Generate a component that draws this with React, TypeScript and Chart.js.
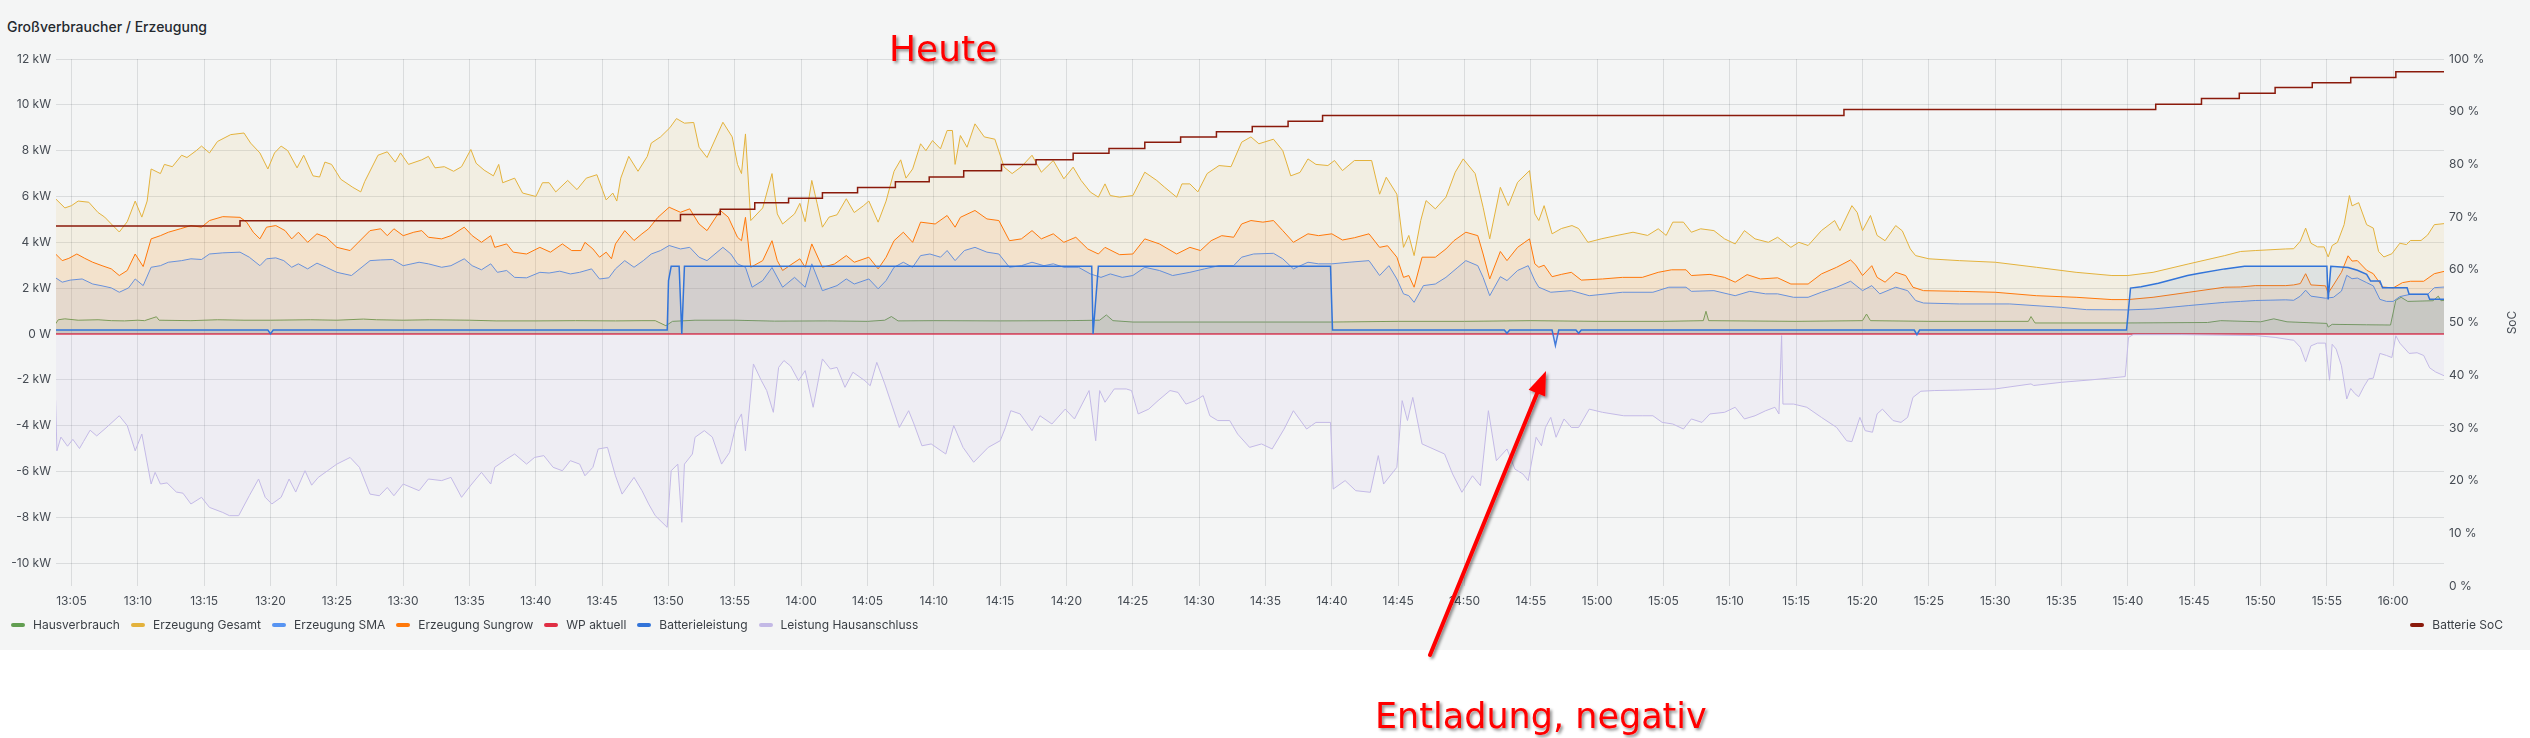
import React, { useEffect, useRef } from "react";
import { Chart, registerables } from "chart.js";

Chart.register(...registerables);

// time axis: minutes after 13:00
const X_MIN = 3.83;
const X_MAX = 183.83;
const xTickMinutes = [5, 10, 15, 20, 25, 30, 35, 40, 45, 50, 55, 60, 65, 70, 75, 80, 85, 90, 95, 100, 105, 110, 115, 120, 125, 130, 135, 140, 145, 150, 155, 160, 165, 170, 175, 180];
const yTicksKW = [-10, -8, -6, -4, -2, 0, 2, 4, 6, 8, 10, 12];
const socTicks = [0, 10, 20, 30, 40, 50, 60, 70, 80, 90, 100];

const seriesNames = ["Hausverbrauch", "Erzeugung Gesamt", "Erzeugung SMA", "Erzeugung Sungrow", "WP aktuell", "Batterieleistung", "Leistung Hausanschluss"];
const socName = "Batterie SoC";

// [minute after 13:00, kW]
const hausverbrauch: [number, number][] = [
  [3.8, 0.44], [4.0, 0.62], [4.5, 0.66], [5.5, 0.6], [7.0, 0.62], [8.0, 0.58], [9.0, 0.57], [10.0, 0.6], [10.5, 0.58], [11.4, 0.75], [11.6, 0.6],
  [14.0, 0.58], [16.0, 0.62], [18.0, 0.6], [20.0, 0.6], [23.0, 0.62], [25.0, 0.6], [27.0, 0.65], [28.0, 0.62], [30.0, 0.6], [32.0, 0.62],
  [35.0, 0.6], [37.0, 0.57], [40.0, 0.57], [43.0, 0.58], [46.0, 0.57], [48.0, 0.58], [49.0, 0.58], [49.8, 0.36], [50.3, 0.55], [52.0, 0.6],
  [55.0, 0.6], [58.0, 0.56], [62.0, 0.57], [65.0, 0.55], [66.3, 0.6], [66.8, 0.76], [67.3, 0.57], [70.0, 0.58], [75.0, 0.57], [80.0, 0.58],
  [82.5, 0.6], [83.0, 0.83], [83.5, 0.58], [85.0, 0.52], [90.0, 0.52], [95.0, 0.52], [100.0, 0.52], [105.0, 0.55], [110.0, 0.55], [115.0, 0.58],
  [120.0, 0.55], [125.0, 0.55], [128.0, 0.58], [128.2, 0.99], [128.4, 0.58], [135.0, 0.55], [140.0, 0.58], [140.3, 0.87], [140.6, 0.58],
  [145.0, 0.55], [152.5, 0.55], [152.7, 0.76], [153.0, 0.48], [160.0, 0.48], [166.0, 0.5], [167.0, 0.58], [170.0, 0.53], [171.0, 0.66],
  [172.0, 0.53], [175.0, 0.46], [175.1, 0.3], [175.4, 0.42], [178.0, 0.4], [179.8, 0.39], [180.2, 1.47], [180.6, 1.6], [181.1, 1.42],
  [183.0, 1.45], [183.4, 1.65], [183.6, 1.45], [183.9, 1.47],
];

const erzeugungGesamt: [number, number][] = [
  [3.8, 5.9], [4.5, 5.5], [5.0, 5.6], [5.5, 5.8], [6.3, 5.75], [7.0, 5.3], [7.5, 5.1], [8.0, 4.8], [8.6, 4.45], [9.2, 4.9], [9.8, 5.8],
  [10.3, 5.1], [10.7, 5.8], [11.0, 7.2], [11.7, 7.0], [12.0, 7.4], [12.6, 7.3], [13.3, 7.8], [13.7, 7.7], [14.4, 8.0], [14.8, 8.2], [15.4, 7.9],
  [16.0, 8.4], [17.0, 8.7], [18.0, 8.77], [18.5, 8.33], [19.2, 7.9], [19.8, 7.2], [20.3, 7.9], [20.8, 8.2], [21.3, 8.0], [22.0, 7.25],
  [22.5, 7.8], [23.2, 6.9], [23.7, 6.85], [24.1, 7.5], [24.6, 7.4], [25.3, 6.75], [26.2, 6.4], [26.8, 6.2], [27.1, 6.65], [28.1, 7.8],
  [28.8, 7.95], [29.4, 7.5], [29.8, 7.9], [30.4, 7.4], [31.4, 7.6], [31.9, 7.75], [32.4, 7.25], [33.1, 7.3], [33.8, 7.1], [34.4, 7.3],
  [35.1, 8.05], [35.5, 7.45], [36.1, 7.15], [36.8, 6.9], [37.2, 7.4], [37.5, 6.6], [38.4, 6.8], [39.0, 6.15], [40.0, 6.0], [40.5, 6.6],
  [41.0, 6.6], [41.5, 6.2], [42.4, 6.7], [43.1, 6.3], [43.8, 6.8], [44.6, 6.95], [45.3, 5.85], [45.8, 6.15], [46.1, 5.8], [46.4, 6.8],
  [47.0, 7.75], [47.7, 7.1], [48.4, 7.75], [48.7, 8.33], [49.4, 8.6], [50.1, 9.0], [50.6, 9.4], [51.2, 9.2], [51.9, 9.23], [52.3, 8.15],
  [52.9, 7.7], [54.1, 9.24], [54.8, 8.6], [55.2, 7.4], [55.5, 7.0], [55.8, 8.73], [56.2, 4.95], [57.1, 5.5], [57.8, 7.0], [58.2, 5.24],
  [58.6, 4.8], [59.5, 5.24], [59.9, 5.7], [60.3, 4.9], [60.8, 6.7], [61.2, 5.7], [61.6, 4.66], [62.1, 5.1], [62.7, 5.2], [63.4, 5.9],
  [64.0, 5.3], [64.7, 5.6], [65.1, 5.8], [65.8, 4.88], [66.4, 5.8], [67.0, 7.1], [67.5, 7.6], [67.9, 6.8], [68.4, 7.2], [69.0, 8.3],
  [69.4, 8.0], [69.9, 8.44], [70.5, 8.08], [71.0, 8.88], [71.4, 8.88], [71.6, 7.4], [72.0, 8.66], [72.5, 8.15], [73.1, 9.17], [73.8, 8.6],
  [74.6, 8.5], [75.3, 7.28], [75.9, 7.0], [76.6, 7.3], [77.4, 7.8], [78.1, 7.06], [79.0, 7.57], [79.8, 6.77], [80.5, 7.28], [81.1, 6.7],
  [81.8, 6.19], [82.4, 5.97], [82.9, 6.55], [83.3, 6.04], [84.0, 5.97], [85.0, 6.04], [85.9, 7.06], [86.8, 6.7], [87.4, 6.4], [88.3, 5.97],
  [88.7, 6.55], [89.3, 6.55], [89.9, 6.2], [90.6, 7.0], [91.5, 7.35], [92.4, 7.3], [93.2, 8.37], [93.9, 8.6], [94.5, 8.3], [95.6, 8.5],
  [96.3, 8.0], [96.9, 6.9], [97.6, 7.05], [98.2, 7.64], [98.8, 7.4], [99.7, 7.35], [100.2, 7.57], [100.8, 7.13], [101.7, 7.57], [103.0, 7.57],
  [103.6, 6.1], [104.1, 6.84], [104.9, 6.1], [105.4, 3.78], [105.8, 4.3], [106.2, 3.42], [106.7, 4.95], [107.1, 5.82], [107.8, 5.46],
  [108.6, 5.97], [109.3, 7.06], [109.9, 7.64], [110.8, 7.0], [111.4, 5.53], [111.9, 4.15], [112.7, 6.4], [113.3, 5.6], [114.0, 6.62],
  [114.9, 7.13], [115.3, 5.24], [115.6, 4.95], [116.0, 5.6], [116.6, 4.37], [117.3, 4.6], [118.1, 4.73], [118.6, 4.6], [119.3, 4.0],
  [120.3, 4.15], [121.5, 4.3], [122.7, 4.44], [123.8, 4.3], [124.6, 4.59], [125.2, 4.3], [125.7, 4.88], [126.5, 4.88], [127.1, 4.44],
  [127.8, 4.59], [128.8, 4.51], [129.6, 4.15], [130.4, 3.93], [131.1, 4.51], [131.9, 4.15], [132.9, 4.0], [133.6, 4.22], [134.6, 3.78],
  [135.2, 4.0], [135.9, 3.86], [136.9, 4.51], [137.9, 4.95], [138.3, 4.51], [139.2, 5.6], [139.6, 5.3], [140.0, 4.51], [140.6, 5.17],
  [141.1, 4.3], [141.7, 4.07], [142.5, 4.73], [143.0, 4.5], [143.6, 3.71], [144.0, 3.42], [145.0, 3.28], [147.3, 3.2], [150.0, 3.13],
  [153.1, 2.91], [156.1, 2.69], [158.8, 2.55], [160.0, 2.55], [161.9, 2.69], [164.6, 3.06], [167.3, 3.42], [168.5, 3.6], [169.6, 3.64],
  [171.9, 3.71], [172.5, 3.72], [173.0, 4.05], [173.4, 4.62], [173.8, 3.96], [174.3, 3.8], [174.8, 3.8], [175.1, 3.36], [175.4, 3.86],
  [175.8, 4.0], [176.3, 4.77], [176.7, 6.04], [176.9, 5.59], [177.4, 5.73], [178.0, 4.77], [178.5, 4.62], [178.9, 3.6], [179.3, 3.36],
  [179.9, 3.5], [180.5, 3.96], [181.0, 3.9], [181.3, 4.08], [182.1, 4.08], [182.6, 4.32], [183.1, 4.77], [183.9, 4.82],
];

const erzeugungSMA: [number, number][] = [
  [3.8, 2.45], [4.3, 2.26], [4.9, 2.35], [5.8, 2.4], [6.6, 2.18], [7.3, 2.1], [8.0, 2.01], [8.6, 1.82], [9.3, 2.01], [9.8, 2.4], [10.4, 2.11],
  [11.0, 2.91], [11.7, 2.98], [12.3, 3.13], [13.3, 3.2], [14.0, 3.28], [14.8, 3.25], [15.4, 3.49], [16.4, 3.54], [17.7, 3.57], [18.4, 3.35],
  [19.2, 2.98], [19.7, 3.28], [20.4, 3.32], [21.0, 3.2], [21.6, 2.91], [22.1, 3.06], [22.8, 2.84], [23.5, 3.09], [24.2, 2.91], [25.0, 2.69],
  [26.1, 2.55], [27.5, 3.2], [28.3, 3.23], [29.2, 3.25], [30.0, 2.98], [31.2, 3.13], [31.9, 3.06], [32.9, 2.91], [33.6, 2.98], [34.6, 3.28],
  [35.2, 2.98], [35.9, 2.8], [36.6, 3.06], [37.1, 2.69], [37.8, 2.77], [38.4, 2.47], [39.3, 2.45], [40.3, 2.69], [41.0, 2.66], [41.8, 2.74],
  [42.6, 2.62], [43.3, 2.69], [44.2, 2.84], [44.8, 2.4], [45.5, 2.45], [46.0, 2.84], [46.7, 3.2], [47.4, 2.91], [48.1, 3.2], [48.7, 3.49],
  [49.4, 3.64], [50.05, 3.86], [50.9, 3.71], [51.6, 3.78], [52.3, 3.35], [52.9, 3.2], [54.1, 3.78], [54.7, 3.49], [55.2, 3.06], [55.8, 2.91],
  [56.3, 2.04], [57.1, 2.33], [57.8, 2.9], [58.6, 2.04], [59.5, 2.47], [60.3, 2.04], [60.8, 3.06], [61.6, 1.89], [62.7, 2.11], [63.4, 2.4],
  [64.0, 2.18], [65.1, 2.4], [65.8, 1.97], [66.4, 2.33], [67.0, 2.91], [67.7, 3.13], [68.4, 2.91], [69.0, 3.42], [69.7, 3.49], [70.5, 3.35],
  [71.0, 3.64], [71.6, 3.2], [72.3, 3.64], [73.1, 3.78], [74.0, 3.57], [74.9, 3.49], [75.7, 2.91], [76.6, 2.98], [77.4, 3.13], [78.3, 2.98],
  [79.0, 3.06], [79.8, 2.91], [80.9, 2.91], [81.8, 2.62], [82.6, 2.47], [83.3, 2.62], [84.2, 2.47], [85.0, 2.55], [85.9, 2.91], [87.0, 2.77],
  [88.0, 2.55], [89.3, 2.69], [90.4, 2.84], [91.5, 2.98], [92.6, 2.98], [93.2, 3.35], [94.1, 3.49], [95.6, 3.52], [96.3, 3.28], [97.1, 2.84],
  [98.2, 3.13], [99.0, 3.06], [100.0, 3.06], [101.3, 3.13], [102.8, 3.2], [103.6, 2.55], [104.3, 2.98], [104.9, 2.4], [105.4, 1.75],
  [105.8, 1.67], [106.2, 1.38], [106.9, 2.11], [107.8, 2.18], [108.6, 2.47], [109.5, 2.91], [110.1, 3.2], [111.0, 2.98], [111.4, 2.47],
  [111.9, 1.67], [112.7, 2.5], [113.2, 2.33], [114.0, 2.77], [114.8, 2.98], [115.3, 2.33], [115.6, 2.04], [116.5, 1.82], [118.05, 1.89],
  [119.4, 1.67], [121.9, 1.82], [124.2, 1.82], [125.4, 2.04], [126.7, 2.04], [127.1, 1.86], [128.8, 1.89], [130.4, 1.67], [131.5, 1.86],
  [132.7, 1.75], [133.6, 1.75], [134.8, 1.6], [135.9, 1.6], [136.9, 1.82], [138.05, 2.04], [139.1, 2.3], [140.0, 1.89], [140.7, 2.11],
  [141.3, 1.75], [142.5, 2.04], [143.4, 1.89], [144.0, 1.46], [144.6, 1.35], [147.3, 1.31], [151.1, 1.31], [155.0, 1.16], [156.9, 1.06],
  [160.0, 1.05], [161.9, 1.09], [164.6, 1.24], [167.3, 1.38], [168.5, 1.42], [169.6, 1.46], [171.9, 1.49], [172.5, 1.47], [173.0, 1.65],
  [173.4, 1.91], [173.8, 1.65], [174.9, 1.56], [175.5, 1.6], [176.1, 1.87], [176.5, 2.56], [176.9, 2.41], [177.3, 2.44], [178.0, 2.24],
  [178.5, 2.1], [179.0, 1.51], [179.5, 1.42], [180.0, 1.42], [180.5, 1.63], [181.3, 1.73], [182.6, 1.73], [183.1, 2.02], [183.9, 2.05],
];

const erzeugungSungrow: [number, number][] = [
  [3.8, 3.49], [4.3, 3.2], [4.8, 3.3], [5.4, 3.49], [6.0, 3.3], [6.6, 3.13], [7.3, 2.98], [8.0, 2.84], [8.6, 2.55], [9.2, 2.77], [9.8, 3.49],
  [10.4, 2.94], [11.0, 4.15], [11.7, 4.29], [12.3, 4.44], [13.2, 4.59], [14.0, 4.73], [14.8, 4.66], [15.4, 4.95], [16.4, 5.12], [17.7, 5.09],
  [18.2, 4.88], [18.7, 4.44], [19.2, 4.15], [19.7, 4.66], [20.4, 4.73], [21.1, 4.51], [21.6, 4.15], [22.1, 4.44], [22.8, 4.0], [23.5, 4.37],
  [24.2, 4.22], [25.0, 3.78], [26.0, 3.64], [26.5, 3.93], [27.5, 4.51], [28.3, 4.59], [28.8, 4.29], [29.3, 4.59], [30.0, 4.29], [30.8, 4.44],
  [31.4, 4.51], [31.9, 4.22], [32.9, 4.15], [33.6, 4.29], [34.6, 4.66], [35.2, 4.29], [35.9, 4.0], [36.6, 4.29], [36.9, 3.78], [37.8, 3.93],
  [38.3, 3.57], [39.3, 3.49], [40.3, 3.78], [41.1, 3.57], [42.0, 3.93], [42.7, 3.64], [43.4, 3.64], [43.7, 4.0], [44.3, 3.71], [44.8, 3.35],
  [45.3, 3.57], [45.7, 3.28], [46.0, 3.93], [46.7, 4.51], [47.4, 4.08], [48.0, 4.37], [48.5, 4.59], [49.2, 5.09], [50.05, 5.53], [50.9, 5.31],
  [51.6, 5.46], [52.3, 4.8], [52.9, 4.51], [53.9, 5.39], [54.5, 5.1], [55.2, 4.22], [55.5, 4.07], [55.8, 5.09], [56.2, 2.91], [57.1, 3.2],
  [57.8, 4.07], [58.2, 3.2], [58.6, 2.77], [59.3, 3.05], [59.9, 3.28], [60.3, 2.91], [60.8, 3.93], [61.6, 2.91], [62.5, 3.05], [63.4, 3.42],
  [64.0, 3.13], [65.1, 3.35], [65.8, 2.84], [66.4, 3.35], [67.0, 4.07], [67.7, 4.44], [68.4, 4.0], [69.0, 4.88], [70.1, 4.8], [71.0, 5.17],
  [71.6, 4.66], [72.0, 5.09], [73.1, 5.39], [74.0, 5.02], [74.9, 4.95], [75.7, 4.07], [76.6, 4.15], [77.4, 4.51], [78.1, 4.15], [79.0, 4.37],
  [79.8, 4.0], [80.7, 4.22], [81.6, 3.71], [82.4, 3.49], [82.9, 3.78], [84.0, 3.46], [85.0, 3.49], [85.9, 4.15], [87.0, 3.93], [88.3, 3.49],
  [89.3, 3.78], [90.1, 3.64], [90.9, 4.07], [91.7, 4.29], [92.6, 4.22], [93.2, 4.8], [93.9, 4.95], [94.8, 4.88], [95.6, 4.95], [96.3, 4.51],
  [97.1, 4.0], [98.2, 4.37], [99.0, 4.29], [100.0, 4.37], [100.8, 4.1], [101.7, 4.2], [102.8, 4.37], [103.6, 3.78], [104.2, 3.85], [104.9, 3.35],
  [105.4, 2.47], [105.8, 2.55], [106.2, 2.04], [106.8, 3.35], [107.8, 3.35], [108.6, 3.71], [109.2, 4.07], [110.1, 4.44], [111.0, 4.29],
  [111.4, 3.49], [111.9, 2.4], [112.7, 3.6], [113.2, 3.2], [114.0, 3.78], [114.9, 4.15], [115.3, 3.06], [115.6, 2.91], [116.0, 3.0],
  [116.6, 2.5], [117.3, 2.6], [118.05, 2.69], [118.8, 2.35], [120.4, 2.4], [121.9, 2.47], [123.4, 2.47], [124.6, 2.69], [125.6, 2.8],
  [126.7, 2.8], [127.1, 2.55], [128.5, 2.6], [129.6, 2.47], [130.4, 2.26], [131.3, 2.59], [132.3, 2.4], [133.6, 2.45], [134.6, 2.18],
  [135.9, 2.18], [136.9, 2.62], [138.05, 2.91], [139.1, 3.23], [139.5, 3.0], [140.0, 2.55], [140.7, 2.98], [141.1, 2.47], [141.7, 2.26],
  [142.5, 2.69], [143.25, 2.55], [143.8, 2.04], [144.6, 1.89], [147.3, 1.86], [150.0, 1.82], [153.1, 1.67], [156.1, 1.6], [158.8, 1.5],
  [160.0, 1.5], [161.9, 1.6], [164.6, 1.82], [167.3, 2.04], [168.5, 2.05], [169.6, 2.11], [171.9, 2.11], [172.5, 2.14], [173.0, 2.2],
  [173.4, 2.63], [173.8, 2.14], [174.9, 2.1], [175.1, 1.78], [175.5, 2.14], [176.1, 2.69], [176.6, 3.41], [176.9, 3.18], [177.3, 3.2],
  [178.0, 2.78], [178.5, 2.63], [179.2, 2.05], [180.0, 2.01], [180.7, 2.24], [181.3, 2.3], [182.3, 2.3], [183.1, 2.63], [183.9, 2.74],
];

const wpAktuell: [number, number][] = [
  [3.8, 0], [60.0, 0], [120.0, 0], [183.9, 0],
];

const batterieleistung: [number, number][] = [
  [3.8, 0.17], [19.8, 0.17], [20.0, 0.0], [20.2, 0.17], [49.9, 0.17], [50.0, 2.33], [50.2, 2.95], [50.8, 2.95], [51.0, 0.0], [51.2, 2.95],
  [81.9, 2.95], [82.0, 0.0], [82.4, 2.95], [99.9, 2.95], [100.05, 0.17], [113.0, 0.17], [113.2, 0.03], [113.4, 0.17], [116.6, 0.17],
  [116.85, -0.5], [117.1, 0.17], [118.4, 0.17], [118.6, 0.03], [118.8, 0.17], [143.9, 0.17], [144.1, -0.03], [144.3, 0.17], [159.9, 0.17],
  [160.2, 2.0], [161.0, 2.06], [162.3, 2.21], [164.5, 2.55], [165.4, 2.65], [167.3, 2.84], [168.8, 2.95], [175.0, 2.95], [175.1, 1.51],
  [175.3, 2.95], [176.6, 2.9], [177.3, 2.78], [178.0, 2.6], [178.3, 2.31], [179.0, 2.31], [179.2, 2.02], [181.05, 2.02], [181.2, 1.73],
  [182.6, 1.73], [182.75, 1.51], [183.9, 1.51],
];

const leistungHausanschluss: [number, number][] = [
  [3.8, -2.9], [3.9, -5.1], [4.2, -4.5], [4.7, -4.9], [5.1, -4.6], [5.6, -5.0], [5.9, -4.7], [6.4, -4.2], [6.9, -4.45], [7.6, -4.1],
  [8.6, -3.57], [9.2, -4.0], [9.8, -5.1], [10.3, -4.37], [11.0, -6.55], [11.3, -6.04], [11.7, -6.55], [12.2, -6.5], [12.9, -6.9], [13.4, -6.95],
  [14.0, -7.42], [14.8, -7.13], [15.4, -7.57], [16.4, -7.79], [16.9, -7.93], [17.6, -7.93], [18.4, -7.06], [19.1, -6.33], [19.6, -7.13],
  [20.1, -7.42], [20.8, -7.13], [21.4, -6.33], [21.9, -6.9], [22.6, -5.97], [23.1, -6.6], [23.6, -6.26], [24.3, -5.97], [25.0, -5.68],
  [26.0, -5.39], [26.7, -5.82], [27.5, -6.99], [28.2, -7.06], [28.8, -6.7], [29.3, -7.06], [30.0, -6.55], [31.2, -6.84], [31.9, -6.33],
  [32.9, -6.4], [33.6, -6.26], [34.4, -7.13], [35.1, -6.6], [35.9, -6.04], [36.6, -6.55], [36.9, -5.82], [37.8, -5.46], [38.4, -5.24],
  [39.3, -5.68], [39.9, -5.39], [40.6, -5.31], [41.3, -5.82], [42.0, -5.97], [42.6, -5.53], [43.3, -5.68], [43.7, -6.19], [44.3, -5.82],
  [44.7, -5.02], [45.4, -4.95], [46.0, -6.19], [46.5, -6.99], [47.4, -6.26], [48.0, -6.84], [48.5, -7.42], [49.0, -7.93], [49.9, -8.44],
  [50.2, -5.97], [50.7, -5.68], [51.0, -8.22], [51.2, -5.68], [51.8, -5.24], [52.0, -4.51], [52.7, -4.22], [53.3, -4.5], [54.0, -5.68],
  [54.6, -5.17], [55.1, -3.93], [55.5, -3.49], [55.8, -5.1], [56.4, -1.31], [57.0, -2.04], [57.4, -2.47], [57.9, -3.42], [58.3, -1.46],
  [58.7, -1.16], [59.2, -1.4], [59.8, -2.04], [60.3, -1.6], [60.9, -3.2], [61.6, -1.09], [62.2, -1.53], [62.7, -1.46], [63.3, -2.33],
  [63.9, -1.67], [64.8, -2.04], [65.2, -2.26], [65.7, -1.24], [66.3, -2.18], [67.4, -4.08], [68.1, -3.35], [68.5, -3.93], [69.1, -4.88],
  [69.8, -4.8], [70.9, -5.24], [71.5, -4.0], [72.2, -4.95], [73.0, -5.6], [74.1, -4.95], [75.0, -4.66], [75.4, -4.08], [75.8, -3.35],
  [76.5, -3.49], [77.4, -4.22], [78.0, -3.57], [78.9, -3.93], [79.9, -3.28], [80.6, -3.71], [81.7, -2.47], [82.2, -4.66], [82.5, -2.47],
  [82.9, -2.98], [83.6, -2.4], [84.5, -2.4], [84.9, -2.47], [85.4, -3.49], [86.2, -3.28], [86.9, -2.91], [87.8, -2.47], [88.4, -2.55],
  [89.0, -3.06], [89.7, -2.91], [90.3, -2.69], [90.8, -3.57], [91.4, -3.78], [92.3, -3.78], [92.9, -4.37], [93.8, -4.95], [94.7, -4.8],
  [95.5, -5.02], [96.4, -4.15], [97.1, -3.35], [98.1, -4.15], [98.8, -3.86], [99.9, -3.86], [100.1, -6.77], [101.0, -6.4], [101.8, -6.84],
  [102.9, -6.91], [103.5, -5.31], [103.9, -6.55], [104.9, -5.82], [105.3, -2.91], [105.7, -3.78], [106.1, -2.77], [106.8, -4.8],
  [108.5, -5.24], [109.1, -6.11], [109.8, -6.91], [110.6, -6.19], [111.2, -6.62], [111.8, -3.35], [112.4, -5.53], [113.2, -5.02],
  [113.8, -5.9], [114.4, -6.11], [114.8, -6.4], [115.4, -4.51], [115.8, -4.88], [116.1, -4.08], [116.5, -3.64], [116.9, -4.51],
  [117.5, -3.71], [118.05, -4.08], [118.6, -4.08], [119.4, -3.28], [120.4, -3.42], [122.0, -3.57], [123.4, -3.57], [124.2, -3.57],
  [124.9, -3.86], [125.7, -3.93], [126.5, -4.15], [127.1, -3.71], [127.9, -3.86], [128.5, -3.49], [129.6, -3.42], [130.4, -3.2],
  [131.1, -3.71], [131.9, -3.57], [132.7, -3.35], [133.4, -3.2], [133.7, -3.49], [133.9, -0.07], [134.0, -3.06], [134.8, -3.06],
  [135.8, -3.2], [136.9, -3.64], [138.05, -4.08], [138.8, -4.66], [139.2, -4.7], [139.8, -3.64], [140.2, -4.22], [140.75, -4.29],
  [141.1, -3.49], [141.5, -3.28], [142.3, -3.78], [142.9, -3.86], [143.4, -3.64], [143.8, -2.77], [144.4, -2.5], [145.4, -2.47],
  [147.3, -2.45], [150.0, -2.4], [152.7, -2.18], [152.9, -2.25], [155.0, -2.11], [157.3, -2.0], [159.8, -1.86], [160.05, -0.15],
  [160.4, -0.03], [164.0, -0.03], [168.0, -0.06], [169.6, -0.07], [171.1, -0.15], [172.3, -0.26], [172.5, -0.27], [173.0, -0.58],
  [173.4, -1.21], [173.8, -0.52], [174.3, -0.4], [174.9, -0.4], [175.2, -2.02], [175.4, -0.45], [175.7, -0.66], [176.1, -1.39],
  [176.5, -2.84], [176.8, -2.38], [177.1, -2.6], [177.4, -2.74], [177.8, -2.29], [178.15, -1.96], [178.5, -1.93], [179.0, -0.85],
  [179.5, -0.94], [179.9, -1.03], [180.2, -0.08], [180.5, -0.4], [181.2, -0.85], [181.8, -0.82], [182.3, -0.94], [182.75, -1.48],
  [183.2, -1.66], [183.9, -1.84],
];

// [minute after 13:00, %] – values change at these moments
const batterieSoC: [number, number][] = [
  [3.8, 68.3], [17.7, 69.3], [50.9, 70.5], [53.9, 71.5], [56.5, 72.7], [59.05, 73.6], [61.6, 74.6], [64.25, 75.6], [67.1, 76.7],
  [69.65, 77.6], [72.25, 78.8], [75.1, 80.0], [77.7, 80.9], [80.5, 82.1], [83.2, 83.0], [85.9, 84.2], [88.6, 85.2], [91.3, 86.2],
  [94.0, 87.2], [96.7, 88.2], [99.3, 89.3], [138.6, 90.4], [162.1, 91.4], [165.55, 92.5], [168.4, 93.5], [171.1, 94.6], [173.9, 95.5],
  [176.8, 96.5], [180.2, 97.6], [183.9, 97.6],
];

const COLORS = ["#629E51", "#E3B23C", "#5794F2", "#FF780A", "#E02F44", "#3274D9", "#C3B9E6"];
const SOC_COLOR = "#8A1A0B";
const FILL_ALPHA = [0.1, 0.1, 0.1, 0.1, 0, 0.1, 0.12];
const LINE_WIDTH = [1, 1, 1, 1, 1.5, 1.5, 1];
const TEXT_COLOR = "#464c54";
const GRID_COLOR = "rgba(36,41,46,0.12)";

function withAlpha(hex: string, a: number) {
  const r = parseInt(hex.slice(1, 3), 16);
  const g = parseInt(hex.slice(3, 5), 16);
  const b = parseInt(hex.slice(5, 7), 16);
  return `rgba(${r},${g},${b},${a})`;
}

const toPoints = (arr: [number, number][]) => arr.map(([x, y]) => ({ x, y }));

const fmtTime = (v: number) => {
  const h = 13 + Math.floor(v / 60);
  const m = Math.round(v % 60);
  return `${h}:${m < 10 ? "0" + m : m}`;
};

const socTitlePlugin = {
  id: "socTitle",
  afterDraw(chart: any) {
    const { ctx, chartArea } = chart;
    ctx.save();
    ctx.translate(2512, (chartArea.top + chartArea.bottom) / 2);
    ctx.rotate(-Math.PI / 2);
    ctx.font = "12px Inter";
    ctx.fillStyle = TEXT_COLOR;
    ctx.textAlign = "center";
    ctx.textBaseline = "middle";
    ctx.fillText("SoC", 0, 0);
    ctx.restore();
  },
};

export default function App() {
  const canvasRef = useRef<HTMLCanvasElement | null>(null);

  useEffect(() => {
    if (!canvasRef.current) return;
    Chart.defaults.font.family = "Inter, 'Noto Sans', sans-serif";
    const seriesData = [hausverbrauch, erzeugungGesamt, erzeugungSMA, erzeugungSungrow, wpAktuell, batterieleistung, leistungHausanschluss];
    const datasets: any[] = seriesData.map((arr, i) => ({
      label: seriesNames[i],
      data: toPoints(arr),
      borderColor: COLORS[i],
      backgroundColor: FILL_ALPHA[i] > 0 ? withAlpha(COLORS[i], FILL_ALPHA[i]) : "transparent",
      fill: FILL_ALPHA[i] > 0 ? "origin" : false,
      borderWidth: LINE_WIDTH[i],
      pointRadius: 0,
      tension: 0,
      yAxisID: "y",
      order: 20 - i,
    }));
    datasets.push({
      label: socName,
      data: toPoints(batterieSoC),
      borderColor: SOC_COLOR,
      backgroundColor: SOC_COLOR,
      fill: false,
      borderWidth: 1.5,
      pointRadius: 0,
      stepped: true,
      yAxisID: "soc",
      order: 1,
    });

    const chart = new Chart(canvasRef.current, {
      type: "line",
      data: { datasets },
      plugins: [socTitlePlugin],
      options: {
        animation: false,
        responsive: false,
        devicePixelRatio: 1,
        layout: { padding: { top: 59, left: 0, right: 0, bottom: 0 } },
        plugins: { legend: { display: false }, tooltip: { enabled: false }, title: { display: false } },
        scales: {
          x: {
            type: "linear",
            min: X_MIN,
            max: X_MAX,
            afterBuildTicks: (s: any) => {
              s.ticks = xTickMinutes.map((v) => ({ value: v }));
            },
            afterFit: (s: any) => {
              s.height = 64;
            },
            ticks: {
              callback: (v: any) => fmtTime(Number(v)),
              autoSkip: false,
              maxRotation: 0,
              padding: 8,
              color: TEXT_COLOR,
              font: { size: 12 },
            },
            grid: { color: GRID_COLOR, drawTicks: false },
            border: { display: false },
          },
          y: {
            type: "linear",
            position: "left",
            min: -11,
            max: 12,
            afterBuildTicks: (s: any) => {
              s.ticks = yTicksKW.map((v) => ({ value: v }));
            },
            afterFit: (s: any) => {
              s.width = 56;
            },
            ticks: {
              callback: (v: any) => (Number(v) === 0 ? "0 W" : `${v} kW`),
              padding: 5,
              color: TEXT_COLOR,
              font: { size: 12 },
            },
            grid: { color: GRID_COLOR, drawTicks: false },
            border: { display: false },
          },
          soc: {
            type: "linear",
            position: "right",
            min: 0,
            max: 100,
            afterBuildTicks: (s: any) => {
              s.ticks = socTicks.map((v) => ({ value: v }));
            },
            afterFit: (s: any) => {
              s.width = 86;
            },
            ticks: {
              callback: (v: any) => `${v} %`,
              padding: 5,
              color: TEXT_COLOR,
              font: { size: 12 },
            },
            grid: { display: false, drawTicks: false },
            border: { display: false },
          },
        },
      } as any,
    });
    return () => chart.destroy();
  }, []);

  const legendItem = (name: string, color: string) => (
    <div key={name} style={{ display: "flex", alignItems: "center", marginRight: 11 }}>
      <span style={{ display: "inline-block", width: 14, height: 4, borderRadius: 2, background: color, marginRight: 8 }} />
      <span>{name}</span>
    </div>
  );

  return (
    <div style={{ position: "absolute", left: 0, top: 0, width: 2530, height: 738, background: "#ffffff", overflow: "hidden" }}>
      <div style={{ position: "absolute", left: 0, top: 0, width: 2530, height: 650, background: "#f4f5f5" }} />
      <div
        style={{
          position: "absolute",
          left: 7,
          top: 18,
          fontFamily: "Inter, sans-serif",
          fontSize: 14,
          fontWeight: 500,
          color: "#24292e",
          lineHeight: "17px",
          whiteSpace: "nowrap",
        }}
      >
        Großverbraucher / Erzeugung
      </div>
      <canvas ref={canvasRef} width={2530} height={650} style={{ position: "absolute", left: 0, top: 0, width: 2530, height: 650 }} />
      <div
        style={{
          position: "absolute",
          left: 11,
          top: 617,
          height: 16,
          display: "flex",
          alignItems: "center",
          fontFamily: "Inter, sans-serif",
          fontSize: 12,
          lineHeight: "16px",
          color: "#3b4046",
          whiteSpace: "nowrap",
        }}
      >
        {seriesNames.map((n, i) => legendItem(n, COLORS[i]))}
      </div>
      <div
        style={{
          position: "absolute",
          right: 16,
          top: 617,
          height: 16,
          display: "flex",
          alignItems: "center",
          fontFamily: "Inter, sans-serif",
          fontSize: 12,
          lineHeight: "16px",
          color: "#3b4046",
          whiteSpace: "nowrap",
        }}
      >
        {legendItem(socName, SOC_COLOR)}
      </div>
      <svg width={2530} height={738} style={{ position: "absolute", left: 0, top: 0, pointerEvents: "none" }}>
        <defs>
          <filter id="sh" x="-20%" y="-20%" width="140%" height="140%">
            <feDropShadow dx="2" dy="2" stdDeviation="1.5" floodColor="#000" floodOpacity="0.45" />
          </filter>
        </defs>
        <g filter="url(#sh)">
          <line x1={1430} y1={655} x2={1538} y2={391} stroke="#ff0000" strokeWidth={4} strokeLinecap="round" />
          <polygon points="1546,371 1528.6,389.8 1545.2,396.6" fill="#ff0000" />
          <text x={889} y={61} fontFamily="'DejaVu Sans', sans-serif" fontSize={36} fill="#ff0000">
            Heute
          </text>
          <text x={1375} y={728} fontFamily="'DejaVu Sans', sans-serif" fontSize={35} fill="#ff0000">
            Entladung, negativ
          </text>
        </g>
      </svg>
    </div>
  );
}
